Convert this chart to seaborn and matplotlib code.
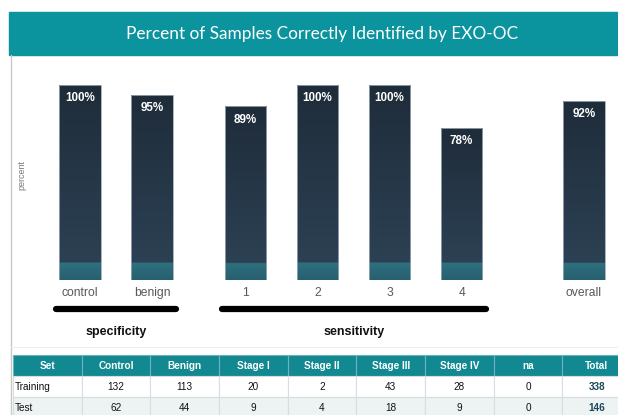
import matplotlib
matplotlib.use('Agg')
import matplotlib.pyplot as plt
import matplotlib.colors as mcolors
import seaborn as sns
import pandas as pd
import numpy as np
from matplotlib.patches import Rectangle
from matplotlib.lines import Line2D

# bar data
categories = ['control', 'benign', '1', '2', '3', '4', 'overall']
percent_correct = [100, 95, 89, 100, 100, 78, 92]

# group brackets under the axis
groups = ['specificity', 'sensitivity']
group_members = [['control', 'benign'], ['1', '2', '3', '4']]

# sample table
table_cols = ['Set', 'Control', 'Benign', 'Stage I', 'Stage II', 'Stage III', 'Stage IV', 'na', 'Total']
training = ['Training', 132, 113, 20, 2, 43, 28, 0, 338]
test = ['Test', 62, 44, 9, 4, 18, 9, 0, 146]

# layout (x slot of each bar, uneven gaps between groups)
x_slots = [0, 1, 2.3, 3.3, 4.3, 5.3, 7.0]

W, H = 618, 415
TEAL = '#0b939e'

sns.set_style('white')
plt.rcParams['font.family'] = ['Liberation Sans', 'DejaVu Sans']

fig = plt.figure(figsize=(W / 100, H / 100), dpi=100)

# header band with title
fig.patches.append(Rectangle((9 / W, 1 - 55 / H), 609 / W, 43 / H,
                             transform=fig.transFigure, color=TEAL, zorder=0))
fig.text(322 / W, 1 - 34 / H, 'Percent of Samples Correctly Identified by EXO-OC',
         ha='center', va='center', color='white', fontsize=12.4,
         family=['Lato', 'DejaVu Sans'])
# panel border + faint separator
fig.lines.append(Line2D([10.5 / W, 10.5 / W], [0, 1 - 55 / H],
                        transform=fig.transFigure, color='#c8c8c8', lw=1))
fig.lines.append(Line2D([10.5 / W, 1], [1 - 347 / H, 1 - 347 / H],
                        transform=fig.transFigure, color='#eeeeee', lw=0.8))

# bar chart
ax = fig.add_axes([10 / W, 1 - 280 / H, 608 / W, 195 / H])
df = pd.DataFrame({'slot': x_slots, 'pct': percent_correct, 'cat': categories})
sns.barplot(data=df, x='slot', y='pct', native_scale=True, width=0.58,
            color='#25364a', saturation=1, edgecolor='#9aa9b6', linewidth=0.6, ax=ax)

strip = 8.7
top_c = np.array(mcolors.to_rgb('#1f2c3a'))
bot_c = np.array(mcolors.to_rgb('#2c4153'))
teal_top = np.array(mcolors.to_rgb('#2f7180'))
teal_bot = np.array(mcolors.to_rgb('#275f6d'))
for p in ax.patches:
    x0, w, h = p.get_x(), p.get_width(), p.get_height()
    ys = np.linspace(h + 2, -2, 400)
    rows = []
    for y in ys:
        if y > strip:
            t = min(max((h - y) / (h - strip), 0), 1)
            rows.append(top_c * (1 - t) + bot_c * t)
        else:
            t = min(max((strip - y) / strip, 0), 1)
            rows.append(teal_top * (1 - t) + teal_bot * t)
    img = np.array(rows)[:, None, :]
    im = ax.imshow(img, extent=[x0 - 0.05, x0 + w + 0.05, -2, h + 2], aspect='auto',
                   zorder=2, interpolation='bilinear')
    im.set_clip_path(p)
    p.set_facecolor('none')
    p.set_zorder(3)

for xs, v in zip(x_slots, percent_correct):
    ax.text(xs, v - 6.7, f'{v}%', ha='center', va='center', color='white',
            fontsize=8.4, fontweight='bold', zorder=4)

ax.set_xlim((10 - 80) / 72, (618 - 80) / 72)
ax.set_ylim(0, 100)
ax.set_xticks(x_slots, categories)
ax.set_yticks([])
ax.tick_params(axis='x', length=0, pad=5, labelsize=8.7, labelcolor='#595959')
ax.set_xlabel('')
ax.set_ylabel('')
sns.despine(ax=ax, left=True, bottom=True)

# group brackets
slot_of = dict(zip(categories, x_slots))
for g, members in zip(groups, group_members):
    lo = min(slot_of[m] for m in members) - 0.33
    hi = max(slot_of[m] for m in members) + 0.34
    ax.plot([lo, hi], [-14.9, -14.9], color='black', lw=4.5,
            solid_capstyle='round', clip_on=False)
    ax.text((lo + hi) / 2, -26.7, g, ha='center', va='center',
            fontsize=9, fontweight='bold', color='#111111')

fig.text(22 / W, 1 - 175 / H, 'percent', rotation=90, ha='center', va='center',
         fontsize=6.5, color='#777777')

# sample-count table
tax = fig.add_axes([13 / W, 1 - 418 / H, 618 / W, 63 / H])
tax.axis('off')
cell_text = [[str(v) for v in training], [str(v) for v in test]]
tbl = tax.table(cellText=cell_text, colLabels=table_cols, bbox=[0, 0, 1, 1],
                cellLoc='center')
tbl.auto_set_font_size(False)
tbl.set_fontsize(7.2)
for (r, c), cell in tbl.get_celld().items():
    cell.set_linewidth(0.8)
    if r == 0:
        cell.set_facecolor('#128891')
        cell.set_edgecolor('#6fb4ba')
        cell.get_text().set_color('white')
        cell.get_text().set_fontweight('bold')
    else:
        cell.set_facecolor('white' if r == 1 else '#edf2f3')
        cell.set_edgecolor('#d6dee1')
        cell.get_text().set_color('#111111')
        if c == 0:
            cell._loc = 'left'
            cell.PAD = 0.03
            cell.get_text().set_horizontalalignment('left')
        if c == len(table_cols) - 1:
            cell.get_text().set_fontweight('bold')
            cell.get_text().set_color('#1c4756')

fig.savefig('out.png', dpi=100)
